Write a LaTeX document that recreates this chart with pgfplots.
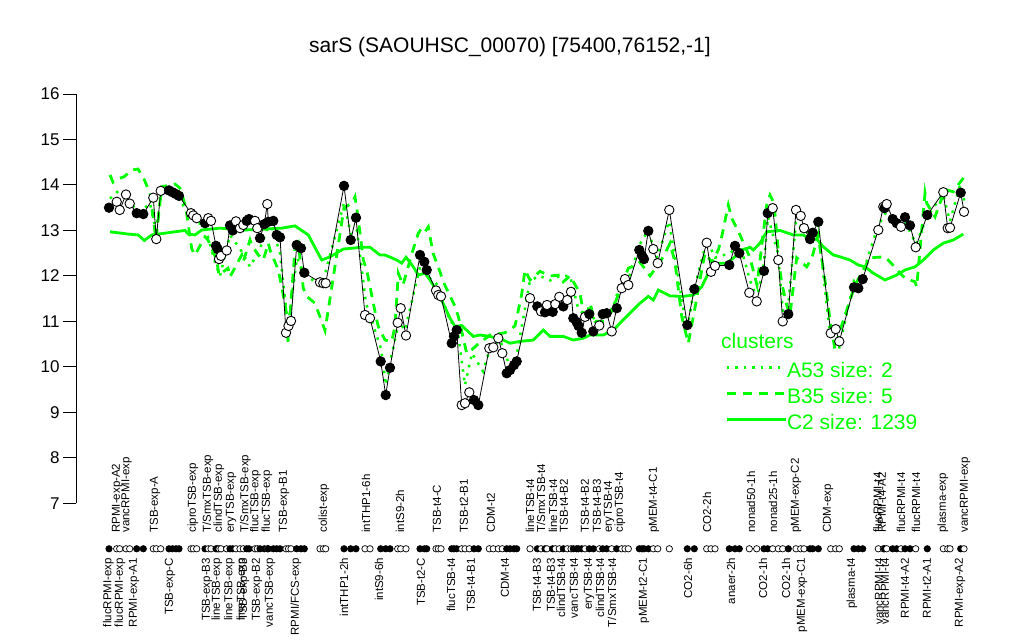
\documentclass[border=0pt]{standalone}
\usepackage{pgfplots}
\pgfplotsset{compat=1.18}
\usepackage{pgfplotstable}
\usepackage{fontspec}
\setmainfont{Liberation Sans}
\definecolor{cg}{RGB}{0,255,0}

\pgfplotstableread{
x y f r
109 13.50 f 6
116.7 13.63 o 6
119.7 13.45 o 6
126 13.79 o 6
129.7 13.59 o 6
136.7 13.38 f 6
143.3 13.36 f 6
153.3 13.72 o 6
156.3 12.81 o 6
160.7 13.87 o 6
169 13.88 f 6
172.5 13.84 f 6
176 13.80 f 6
179 13.76 f 6
191 13.38 o 6
193.3 13.33 o 6
196.7 13.27 o 6
205 13.16 f 6
208.3 13.27 o 6
211 13.21 o 6
216 12.66 f 6
217.7 12.59 f 6
219 12.37 o 6
221 12.44 o 6
226.7 12.56 o 6
230 13.11 f 6
232.7 13.00 f 6
236 13.20 o 6
240 13.05 o 6
243.3 13.12 o 6
246.7 13.21 f 6
249 13.25 f 6
255 13.21 o 6
257.3 13.05 o 6
260 12.83 f 6
264.3 13.14 f 6
267.3 13.58 o 6
268.3 13.19 f 6
273.3 13.21 f 6
276.7 12.90 f 6
280 12.85 f 6
286 10.75 o 6
288.5 10.90 o 6
291 11.01 o 6
296.7 12.68 f 6
301 12.61 f 6
304.3 12.07 f 6
320 11.86 o 6
323.3 11.84 o 6
325.7 11.84 o 6
344 13.98 f 6
350.7 12.79 f 6
356 13.28 f 6
365 11.14 o 6
370 11.07 o 6
380.7 10.12 f 6
385.7 9.38 f 6
390 9.98 f 6
397.7 10.97 o 6
400.7 11.29 o 6
406 10.69 o 6
420 12.46 f 6
424.3 12.31 f 6
426.7 12.13 f 6
436 11.68 o 6
438.3 11.58 o 6
441 11.55 o 6
451.7 10.52 f 6
454 10.67 f 6
456.7 10.81 f 6
461.7 9.16 o 6
465 9.20 o 6
469.3 9.44 o 6
474 9.27 f 6
478.3 9.16 f 6
489.3 10.41 o 6
493.3 10.43 o 6
498.3 10.63 o 6
502.3 10.30 o 6
506.7 9.86 f 6
510 9.93 f 6
514 10.04 f 6
516.7 10.12 f 6
530 11.51 o 6
537.3 11.33 f 6
541 11.22 o 6
545 11.20 f 6
547 11.36 o 6
552.7 11.21 f 6
555.3 11.38 o 6
559.3 11.54 o 6
563.3 11.33 f 6
567.3 11.47 o 6
571 11.65 o 6
573.3 11.07 f 6
576.5 10.99 f 6
578.5 10.90 f 6
581.7 10.75 f 6
585 11.10 o 6
589.3 11.16 f 6
593.3 10.78 f 6
599.3 10.91 o 6
602.7 11.16 f 6
606.7 11.18 f 6
611.7 10.78 o 6
616.7 11.29 f 6
621.7 11.73 o 6
625 11.93 o 6
628.3 11.80 o 6
639.3 12.57 f 6
642 12.45 f 6
644 12.37 f 6
648.3 12.99 f 6
653.3 12.59 o 6
657.7 12.28 o 6
669.3 13.45 o 6
687.3 10.92 f 6
694.3 11.71 f 6
706.7 12.73 o 6
711 12.09 o 6
715 12.22 o 6
729.3 12.24 f 6
735 12.66 f 6
739.3 12.50 f 6
749.3 11.63 o 6
756.7 11.44 o 6
764 12.11 f 6
767.7 13.38 f 6
772.7 13.49 o 6
778.3 12.35 o 6
782.7 11.00 o 6
788.3 11.16 f 6
796 13.45 o 6
800.7 13.32 o 6
804 13.05 o 6
810 12.81 f 6
812.7 12.95 f 6
818.3 13.19 f 6
830.7 10.74 o 6
835.7 10.83 o 6
839.3 10.56 o 6
854 11.75 f 6
858.3 11.73 f 6
862.7 11.93 f 6
878.3 13.01 o 6
883.3 13.52 o 6
884.5 13.49 f 6
886.7 13.58 o 6
892.7 13.25 f 6
896.7 13.16 f 6
901 13.08 o 6
905 13.29 f 6
910 13.11 f 6
915.7 12.63 o 6
927.3 13.34 f 6
943.3 13.84 o 6
947.7 13.05 o 6
950 13.06 o 6
960.7 13.83 f 6
964 13.41 o 6
}\main

\pgfplotstableread{
x y
110 12.97
128.3 12.92
138.3 12.90
144.3 12.78
151.7 12.90
175 12.97
185 13.00
188.3 12.92
195 12.90
201.7 13.01
220 13.05
245 13.01
265 13.03
281.7 13.05
295 13.10
308.3 12.90
321.7 12.35
330 12.42
343.3 12.59
361.7 12.63
370 12.63
380 12.46
385 12.46
396.7 12.35
401.7 12.28
406 12.41
413.3 12.20
418.3 12.02
425 12.06
430 11.91
440 11.55
450 11.07
455 10.89
461.7 10.91
473.3 10.67
480 10.70
490 10.67
503.3 10.59
510 10.52
520 10.56
533.3 10.59
543.3 10.81
550 10.67
563.3 10.67
573.3 10.59
583.3 10.63
590 10.70
603.3 10.70
613.3 10.81
626.7 11.11
640 11.40
648.3 11.55
653.3 11.47
658.3 11.69
670 11.56
683.3 11.55
693.3 11.58
701.7 11.76
708.3 12.06
716.7 12.28
726.7 12.28
733.3 12.39
741.7 12.57
750 12.63
753.3 12.57
760 12.72
766.7 12.97
780 13.00
793.3 12.90
803.3 12.90
810 12.81
816.7 12.81
823.3 12.64
833.3 12.46
840 12.42
850 12.35
858.3 12.24
865 12.20
873.3 12.06
885 11.91
896.7 12.02
905 12.13
915 12.20
923.3 12.35
933.3 12.57
943.3 12.72
953.3 12.79
963.3 12.92
}\ctwo

\pgfplotstableread{
x y
110 14.22
113 14.06
120 14.15
124 14.18
132 14.33
138 14.35
143 14.18
150 13.82
156 12.80
161.7 13.96
175 14.02
180 13.93
185.7 13.52
191.7 12.60
195 12.46
205 12.86
208 12.79
216.7 12.35
219 12.02
228 12.17
230 11.98
241.7 12.46
243.3 12.31
250 12.79
251.7 12.68
258.3 12.46
263.3 12.35
268.3 12.72
270 12.57
278.3 12.13
281.7 11.76
285.7 11.29
288 10.55
295 12.60
298.3 12.72
303.3 11.73
306.7 11.55
315 11.40
325 10.80
330 11.50
344 13.50
352 13.60
355 13.74
358 13.30
363.3 12.35
366.7 12.13
376.7 11.03
378.3 10.89
385 10.59
391.7 10.56
395 10.89
398.3 12.06
403 11.80
412 12.50
418.3 12.94
421.7 13.05
425 12.97
428.3 13.08
433 12.50
440 12.09
443.3 11.87
455 11.33
458.3 11.11
466.7 10.30
470 10.34
478 10.50
490 10.70
505 10.75
515 10.90
521.7 11.60
525 12.13
530 11.91
540 12.10
550 12.00
560 12.02
563.3 11.87
570 12.00
580 11.62
581.7 11.40
585 11.00
590 11.40
595 11.00
605 11.00
615 11.40
628.3 12.17
631.7 12.20
640 12.30
650 12.00
660 12.30
666.7 12.57
670 12.72
675 12.30
681.7 11.11
688.3 10.52
695 11.30
701.7 12.13
705 12.50
712 12.30
718.3 12.57
721.7 12.86
728.3 13.56
731.7 13.27
740 12.90
750 12.40
757 11.80
766.7 13.56
770 13.78
774 13.60
780 12.13
781.7 11.84
786.7 11.36
790 11.14
796.7 12.40
806.7 12.20
812 12.40
818 12.90
825 11.90
830 11.03
835 10.37
840 10.80
855 11.80
870 12.40
885 12.42
890 12.31
900 12.06
905 11.95
915 11.87
916.7 11.76
925 13.82
926.7 13.60
935 13.30
945 13.90
953.3 13.85
956.7 13.96
965 14.20
}\bthree

\pgfplotstableread{
x y
110 13.70
120 13.90
130 13.60
140 13.40
150 13.60
156 13.00
162 13.90
175 13.80
185 13.50
195 13.20
205 13.10
215 12.30
220 12.00
230 12.90
240 12.60
250 12.20
260 12.60
270 13.20
280 12.50
288 10.90
297 12.40
305 12.00
322 11.80
344 13.60
351 12.90
357 13.00
366 11.40
372 11.00
381 10.40
386 9.60
391 10.20
399 11.00
405 10.80
420 12.20
427 12.00
438 11.80
450 11.00
457 10.90
465 9.60
472 10.30
483 9.90
490 10.40
500 10.60
510 10.00
517 10.30
530 11.90
540 12.00
550 11.90
560 12.00
570 12.00
578 11.30
590 11.00
600 11.20
610 11.10
620 11.80
628 11.90
640 12.70
648 13.00
657 12.40
669 13.20
687 10.80
694 11.70
707 12.80
715 12.40
730 12.50
740 12.70
750 11.90
757 11.50
764 12.30
768 13.30
778 12.50
783 11.20
788 11.30
796 13.20
804 13.00
812 12.90
818 13.10
830 10.70
839 10.40
854 11.90
862 12.00
878 13.10
886 13.40
897 13.20
905 13.20
916 12.70
927 13.30
943 13.80
950 13.20
960 14.00
965 13.60
}\afive

\newcommand{\lab}{\fontsize{11.5}{11.5}\selectfont}

\begin{document}
\begin{tikzpicture}[x=1pt,y=1pt]
\useasboundingbox (0,0) rectangle (1024,640);
\begin{axis}[
  at={(76pt,136.7pt)}, anchor=south west,
  scale only axis, width=914pt, height=409.3pt,
  xmin=76, xmax=990, ymin=7, ymax=16,
  clip=false,
  axis x line=none,
  axis y line*=left,
  y axis line style={line width=1pt, black},
  xtick=\empty,
  ytick={7,8,...,16},
  tick align=outside,
  major tick length=13pt,
  tick style={line width=1pt, black},
  yticklabel style={font=\fontsize{17}{17}\selectfont},
  /pgf/number format/assume math mode=true,
  legend cell align=left,
  legend style={at={(axis cs:725,10.10)}, anchor=north west, draw=none, fill=none,
    font=\fontsize{21}{21}\selectfont, text=cg, inner sep=0pt, row sep=6pt,
    nodes={inner sep=0pt, text height=15pt, text depth=5pt}},
  legend image code/.code={\draw[#1] (0pt,5pt) -- (38pt,5pt); \path (0pt,5pt) -- (59pt,5pt);},
]
\addplot[cg, line width=2.5pt, dash pattern=on 2.5pt off 6pt] table[x=x,y=y] {\afive};
\addlegendentry{A53 size: 2}
\addplot[cg, line width=2.8pt, dash pattern=on 9pt off 7pt] table[x=x,y=y] {\bthree};
\addlegendentry{B35 size: 5}
\addplot[cg, line width=2.8pt] table[x=x,y=y] {\ctwo};
\addlegendentry{C2 size: 1239}

\addplot[black, line width=0.8pt, forget plot] table[x=x,y=y] {\main};
\addplot[scatter, only marks, forget plot, mark size=4.7pt,
  scatter src=explicit symbolic,
  scatter/classes={o={mark=*, draw=black, fill=white, line width=0.9pt}, f={mark=*, draw=black, fill=black, line width=0.9pt}}]
  table[x=x,y=y,meta=f] {\main};
\addplot[scatter, only marks, forget plot, mark size=3.2pt,
  scatter src=explicit symbolic,
  scatter/classes={o={mark=*, draw=black, fill=white, line width=0.7pt}, f={mark=*, draw=black, fill=black, line width=0.7pt}}]
  table[x=x,y=r,meta=f] {\main};

\node[anchor=base west, inner sep=0pt, font=\fontsize{21}{21}\selectfont, text=cg] at (axis cs:721,10.41) {clusters};

% top labels
\foreach \xx/\ll in {117/RPMI-exp-A2, 126.5/vancRPMI-exp, 155/TSB-exp-A, 193/ciproTSB-exp, 208/{T/SmxTSB-exp}, 219/clindTSB-exp, 231/eryTSB-exp, 245.5/{T/SmxTSB-exp}, 255.5/flucTSB-exp, 267/flucTSB-exp, 284/TSB-exp-B1, 324/colist-exp, 366/intTHP1-6h, 400/intS9-2h, 437/TSB-t4-C, 464/TSB-t2-B1, 491/CDM-t2, 530/lineTSB-t4, 541/{T/SmxTSB-t4}, 553/lineTSB-t4, 564/TSB-t4-B2, 585/TSB-t4-B2, 597/TSB-t4-B3, 609/eryTSB-t4, 620/ciproTSB-t4, 654/pMEM-t4-C1, 707/CO2-2h, 751/nonad50-1h, 773/nonad25-1h, 796/pMEM-exp-C2, 828/CDM-exp, 877.5/flucRPMI-t4, 882/RPMI-t4-A2, 901/flucRPMI-t4, 916/flucRPMI-t4, 943/plasma-exp, 965/vancRPMI-exp}
  {\edef\tmp{\noexpand\node[rotate=90, anchor=west, inner sep=0pt, font=\noexpand\lab] at (axis cs:\xx,6.35) {\ll};}\tmp}
% bottom labels
\foreach \xx/\ll in {108.5/flucRPMI-exp, 120/flucRPMI-exp, 134/RPMI-exp-A1, 170/TSB-exp-C, 207/TSB-exp-B3, 217/lineTSB-exp, 229.5/lineTSB-exp, 242/lineTSB-exp, 244/TSB-exp-B3, 257/TSB-exp-B2, 270/vancTSB-exp, 296/{RPMI/FCS-exp}, 344/intTHP1-2h, 379/intS9-6h, 421/TSB-t2-C, 451/flucTSB-t4, 471/TSB-t4-B1, 505/CDM-t4, 537/TSB-t4-B3, 551/TSB-t4-B3, 561/clindTSB-t4, 574/vancTSB-t4, 589/eryTSB-t4, 600/clindTSB-t4, 612/{T/SmxTSB-t4}, 644/pMEM-t2-C1, 688/CO2-6h, 731/anaer-2h, 763/CO2-1h, 786/CO2-1h, 802/pMEM-exp-C1, 852/plasma-t4, 879/vancRPMI-t4, 885/vancRPMI-t4, 905/RPMI-t4-A2, 927/RPMI-t2-A1, 960/RPMI-exp-A2}
  {\edef\tmp{\noexpand\node[rotate=90, anchor=east, inner sep=0pt, font=\noexpand\lab] at (axis cs:\xx,5.80) {\ll};}\tmp}
\end{axis}
\node[font=\fontsize{21}{21}\selectfont] at (510,593) {sarS (SAOUHSC\_00070) [75400,76152,-1]};
\end{tikzpicture}
\end{document}
